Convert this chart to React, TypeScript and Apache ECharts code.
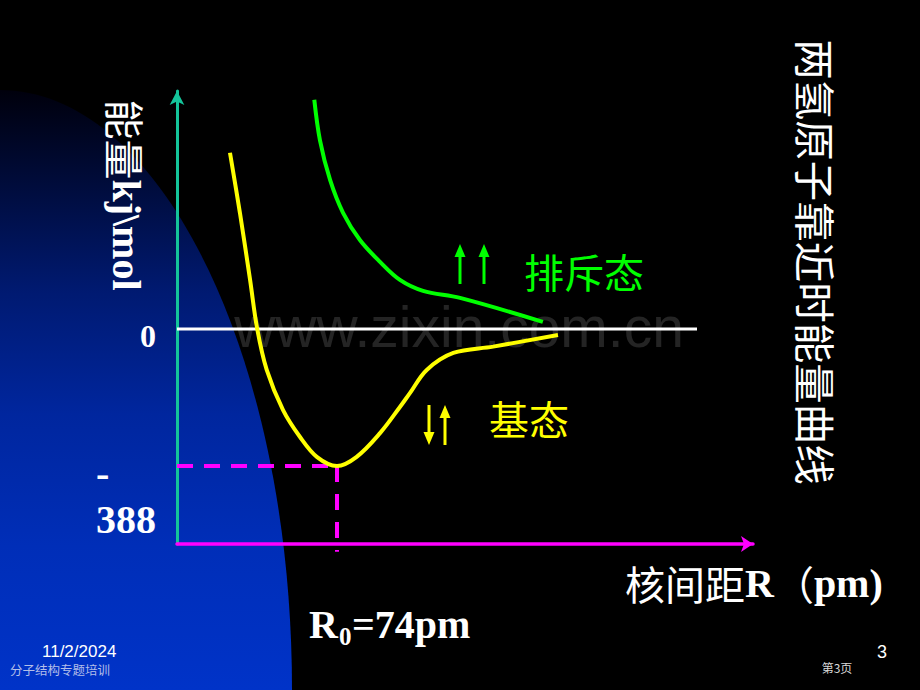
import React, { useEffect, useRef } from 'react';
import * as echarts from 'echarts';

// Ground state (antiparallel spins) curve: R in pm, E in kJ/mol
const groundR = [24.5, 29.1, 33.8, 37.1, 41.5, 49.0, 56.9, 64.8, 74.0, 83.1, 93.9, 103.1, 107.8, 115.5, 127.8, 146.2, 176.2];
const groundE = [499, 329, 139, 0, -116, -229, -306, -363, -388, -362, -295, -221, -181, -116, -68, -50, -17];
// Repulsive state (parallel spins) curve
const repulsiveR = [63.5, 66.1, 70.8, 76.8, 84.6, 93.9, 103.1, 113.8, 130.9, 169.2];
const repulsiveE = [649, 535, 422, 329, 252, 190, 139, 108, 88, 20];
// zero-energy reference line
const zeroLineR = [0, 240.5];
// equilibrium
const r0 = 74;
const eMin = -388;
const yTickValues = [0, -388];

const title = '两氢原子靠近时能量曲线';
const yName = ['能量', 'kj\\mol'];
const xName = ['核间距', 'R', '（', 'pm)'];
const r0Label = ['R', '0', `=${r0}pm`];
const repulsiveLabel = '排斥态';
const groundLabel = '基态';
const watermark = 'www.zixin.com.cn';
const footDate = '11/2/2024';
const footTitle = '分子结构专题培训';
const pageNo = '3';
const pageText = '第3页';

const CJK = "'Noto Sans CJK SC', sans-serif";
const SERIF = "'Liberation Serif', 'Times New Roman', serif";
const SANS = "'Liberation Sans', Arial, sans-serif";

function arrow(x: number, yTail: number, yTip: number, color: string) {
  const dir = yTip < yTail ? -1 : 1;
  const headH = 13;
  const headW = 11;
  const base = yTip - dir * headH;
  return {
    type: 'group',
    children: [
      { type: 'line', shape: { x1: x, y1: yTail, x2: x, y2: base }, style: { stroke: color, lineWidth: 3 } },
      {
        type: 'polygon',
        shape: { points: [[x, yTip], [x - headW / 2, base], [x + headW / 2, base]] },
        style: { fill: color },
      },
    ],
  };
}

export default function App() {
  const ref = useRef<HTMLDivElement>(null);
  useEffect(() => {
    if (!ref.current) return;
    const chart = echarts.init(ref.current, undefined, { renderer: 'svg' });
    const serifBold = { fontFamily: SERIF, fontWeight: 'bold', fill: '#ffffff' };
    const option: any = {
      animation: false,
      backgroundColor: '#000000',
      grid: { left: 177, right: 167, top: 91, bottom: 146, outerBoundsMode: 'none' },
      xAxis: {
        type: 'value',
        min: 0,
        max: 266.4,
        axisLine: {
          show: true,
          onZero: false,
          symbol: ['none', 'arrow'],
          symbolSize: [12, 12],
          lineStyle: { color: '#ff00ff', width: 3.5 },
        },
        axisTick: { show: false },
        axisLabel: { show: false },
        splitLine: { show: false },
      },
      yAxis: {
        type: 'value',
        min: -609,
        max: 674,
        axisLine: {
          show: true,
          onZero: false,
          symbol: ['none', 'arrow'],
          symbolSize: [11, 14],
          lineStyle: { color: '#14c49a', width: 3 },
        },
        axisTick: { show: false },
        splitLine: { show: false },
        axisLabel: {
          show: true,
          customValues: yTickValues,
          margin: 21,
          color: '#ffffff',
          formatter: (v: number) =>
            v === 0 ? '{sp0|\u00a0}\n{zero|0}' : `{sp|\u00a0}\n{dash|-}\n{num|${Math.abs(v)}}`,
          rich: {
            sp0: { lineHeight: 14, fontSize: 4, align: 'left' },
            zero: { fontSize: 32, lineHeight: 36, fontWeight: 'bold', fontFamily: SERIF, color: '#fff', align: 'left' },
            sp: { lineHeight: 62, fontSize: 4, align: 'left' },
            dash: { fontSize: 40, lineHeight: 46, fontWeight: 'bold', fontFamily: SERIF, color: '#fff', align: 'left' },
            num: { fontSize: 40, lineHeight: 46, fontWeight: 'bold', fontFamily: SERIF, color: '#fff', align: 'left' },
          },
        },
      },
      series: [
        {
          type: 'line',
          data: zeroLineR.map((r) => [r, 0]),
          symbol: 'none',
          lineStyle: { color: '#ffffff', width: 3 },
          z: 2,
        },
        {
          type: 'line',
          data: [[0, eMin], [r0, eMin]],
          symbol: 'none',
          lineStyle: { color: '#ff00ff', width: 4, type: [16, 11] },
          z: 3,
        },
        {
          type: 'line',
          data: [[r0, eMin], [r0, -631]],
          symbol: 'none',
          clip: false,
          lineStyle: { color: '#ff00ff', width: 4, type: [16, 12] },
          z: 3,
        },
        {
          type: 'line',
          data: repulsiveR.map((r, i) => [r, repulsiveE[i]]),
          symbol: 'none',
          smooth: 0.35,
          lineStyle: { color: '#00ff00', width: 4 },
          z: 4,
        },
        {
          type: 'line',
          data: groundR.map((r, i) => [r, groundE[i]]),
          symbol: 'none',
          smooth: 0.35,
          lineStyle: { color: '#ffff00', width: 4 },
          z: 4,
        },
      ],
      graphic: [
        {
          type: 'ellipse',
          z: -10,
          shape: { cx: 0, cy: 690, rx: 292, ry: 600 },
          style: {
            fill: new echarts.graphic.LinearGradient(0, 0, 0, 1, [
              { offset: 0, color: '#00000c' },
              { offset: 0.08, color: '#000c3c' },
              { offset: 0.17, color: '#001a72' },
              { offset: 0.27, color: '#00269e' },
              { offset: 0.38, color: '#002eb8' },
              { offset: 0.5, color: '#0033c8' },
              { offset: 1, color: '#0033c8' },
            ]),
          },
        },
        {
          type: 'text',
          z: -5,
          x: 459,
          y: 327,
          style: {
            text: watermark,
            fontSize: 57,
            fontFamily: SANS,
            fill: 'rgba(90,90,90,0.4)',
            align: 'center',
            verticalAlign: 'middle',
          },
        },
        {
          type: 'text',
          x: 816,
          y: 262,
          rotation: -Math.PI / 2,
          style: {
            text: title,
            fontSize: 40.5,
            fontFamily: CJK,
            fill: '#ffffff',
            align: 'center',
            verticalAlign: 'middle',
          },
        },
        {
          type: 'text',
          x: 126,
          y: 195,
          rotation: -Math.PI / 2,
          style: {
            text: `{cn|${yName[0]}}{en|${yName[1]}}`,
            align: 'center',
            verticalAlign: 'middle',
            rich: {
              cn: { fontSize: 40, fontFamily: CJK, fill: '#fff', fontWeight: 'normal' },
              en: { fontSize: 40, fontFamily: SERIF, fill: '#fff', fontWeight: 'bold' },
            },
          },
        },
        {
          type: 'text',
          x: 625,
          y: 583,
          style: {
            text: `{cn|${xName[0]}}{en|${xName[1]}}{cn|${xName[2]}}{en|${xName[3]}}`,
            align: 'left',
            verticalAlign: 'middle',
            rich: {
              cn: { fontSize: 40, fontFamily: CJK, fill: '#fff', fontWeight: 'normal' },
              en: { fontSize: 40, fontFamily: SERIF, fill: '#fff', fontWeight: 'bold' },
            },
          },
        },
        {
          type: 'text',
          x: 309,
          y: 624,
          style: { ...serifBold, text: r0Label[0], fontSize: 40, align: 'left', verticalAlign: 'middle' },
        },
        {
          type: 'text',
          x: 339,
          y: 636,
          style: { ...serifBold, text: r0Label[1], fontSize: 25, align: 'left', verticalAlign: 'middle' },
        },
        {
          type: 'text',
          x: 352,
          y: 624,
          style: { ...serifBold, text: r0Label[2], fontSize: 40, align: 'left', verticalAlign: 'middle' },
        },
        {
          type: 'text',
          x: 584,
          y: 271,
          style: { text: repulsiveLabel, fontSize: 40, fontFamily: CJK, fill: '#00ff00', align: 'center', verticalAlign: 'middle' },
        },
        {
          type: 'text',
          x: 529,
          y: 418,
          style: { text: groundLabel, fontSize: 40, fontFamily: CJK, fill: '#ffff00', align: 'center', verticalAlign: 'middle' },
        },
        arrow(460, 284, 244, '#00ff00'),
        arrow(484, 284, 244, '#00ff00'),
        arrow(429, 405, 445, '#ffff00'),
        arrow(445, 445, 405, '#ffff00'),
        {
          type: 'text',
          x: 42,
          y: 651,
          style: { text: footDate, fontSize: 17, fontFamily: SANS, fill: '#ffffff', align: 'left', verticalAlign: 'middle' },
        },
        {
          type: 'text',
          x: 10,
          y: 669,
          style: { text: footTitle, fontSize: 12.5, fontFamily: CJK, fill: '#b4bfe8', align: 'left', verticalAlign: 'middle' },
        },
        {
          type: 'text',
          x: 882,
          y: 652,
          style: { text: pageNo, fontSize: 18, fontFamily: SANS, fill: '#ffffff', align: 'center', verticalAlign: 'middle' },
        },
        {
          type: 'text',
          x: 837,
          y: 667,
          style: { text: pageText, fontSize: 12, fontFamily: CJK, fill: '#d8d8d8', align: 'center', verticalAlign: 'middle' },
        },
      ],
    };
    chart.setOption(option);
    return () => chart.dispose();
  }, []);
  return <div ref={ref} style={{ position: 'absolute', left: 0, top: 0, width: 920, height: 690 }} />;
}
